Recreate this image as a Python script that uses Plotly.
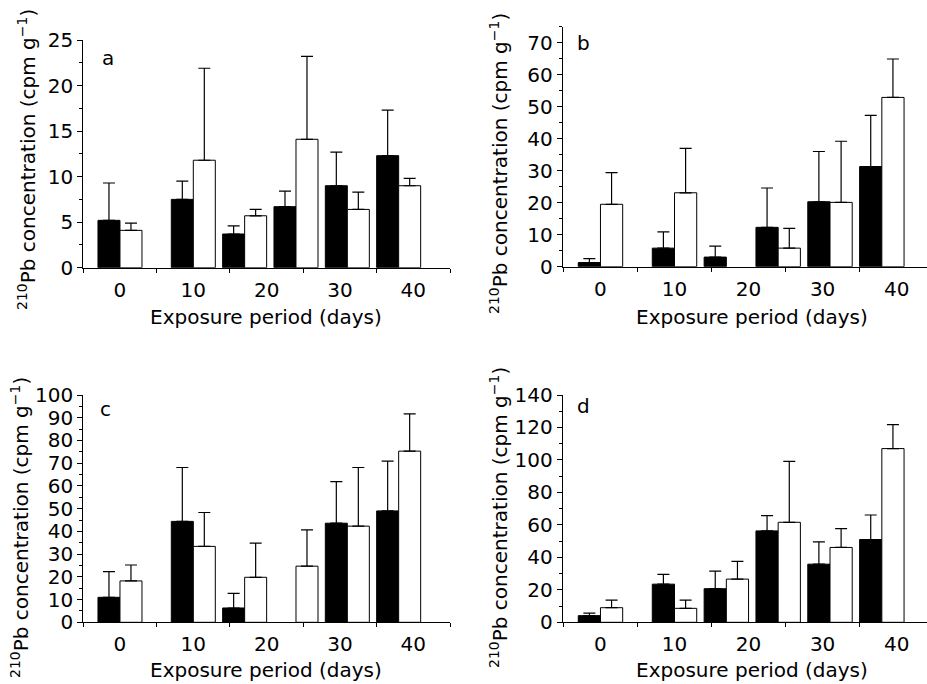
import plotly.graph_objects as go

# Sampling days (bar-pair positions)
days = [0, 10, 17, 24, 31, 38]

# Panel a
a_black = [5.2, 7.5, 3.7, 6.7, 9.0, 12.3]
a_black_err = [9.3, 9.5, 4.6, 8.4, 12.7, 17.3]
a_white = [4.1, 11.8, 5.7, 14.1, 6.4, 9.0]
a_white_err = [4.9, 21.9, 6.4, 23.2, 8.3, 9.8]

# Panel b
b_black = [1.3, 5.8, 3.0, 12.3, 20.3, 31.3]
b_black_err = [2.5, 10.9, 6.4, 24.6, 36.0, 47.3]
b_white = [19.5, 23.1, None, 5.8, 20.1, 52.9]
b_white_err = [29.4, 37.0, None, 12.0, 39.2, 64.9]

# Panel c
c_black = [11.0, 44.4, 6.3, None, 43.6, 49.0]
c_black_err = [22.3, 68.1, 12.7, None, 61.9, 70.9]
c_white = [18.2, 33.4, 19.8, 24.7, 42.3, 75.3]
c_white_err = [25.2, 48.3, 34.8, 40.7, 68.1, 91.7]

# Panel d
d_black = [4.1, 23.5, 20.7, 56.3, 35.8, 51.0]
d_black_err = [5.7, 29.5, 31.5, 65.7, 49.5, 66.1]
d_white = [9.0, 8.6, 26.6, 61.6, 46.1, 107.0]
d_white_err = [13.7, 13.7, 37.5, 99.1, 57.7, 121.8]

x_ticks = [0, 10, 20, 30, 40]
panel_letters = ["a", "b", "c", "d"]
y_ranges = [[0, 25], [0, 75], [0, 100], [0, 140]]
y_dticks = [5, 10, 10, 20]

FONT = "DejaVu Sans"
FS = 20
W, H = 927, 684

panels = [
    (a_black, a_black_err, a_white, a_white_err),
    (b_black, b_black_err, b_white, b_white_err),
    (c_black, c_black_err, c_white, c_white_err),
    (d_black, d_black_err, d_white, d_white_err),
]

# pixel layout of each plot area: (x0, x1, ytop, ybottom)
px = [
    (83.3, 450.0, 40.0, 267.7),
    (562.7, 927.0, 26.7, 266.7),
    (83.3, 450.0, 395.0, 622.3),
    (562.7, 927.0, 395.0, 622.3),
]
x_ranges = [[-5, 45], [-5.1, 44.1], [-5, 45], [-5.1, 44.1]]

fig = go.Figure()

def up(vals, tops):
    return [None if v is None else t - v for v, t in zip(vals, tops)]

for i, (bk, bke, wh, whe) in enumerate(panels):
    n = "" if i == 0 else str(i + 1)
    xa, ya = "x" + n, "y" + n
    for vals, tops, color in [(bk, bke, "black"), (wh, whe, "white")]:
        fig.add_trace(go.Bar(
            x=days, y=vals, xaxis=xa, yaxis=ya,
            marker=dict(color=color, line=dict(color="black", width=1)),
            error_y=dict(type="data", symmetric=False, array=up(vals, tops),
                         arrayminus=[0] * len(vals), color="black",
                         thickness=1.2, width=6),
            showlegend=False, hoverinfo="skip",
        ))
    x0, x1, yt, yb = px[i]
    xdom = [x0 / W, x1 / W]
    ydom = [1 - yb / H, 1 - yt / H]
    fig.layout["xaxis" + n] = dict(
        domain=xdom, range=x_ranges[i], anchor=ya, automargin=False,
        tickvals=x_ticks, ticktext=[str(t) for t in x_ticks],
        ticks="outside", ticklen=4, tickcolor="rgba(0,0,0,0)",
        minor=dict(ticks="outside", tick0=-5, dtick=10, ticklen=4,
                   tickcolor="black", tickwidth=1),
        showline=True, linecolor="black", linewidth=1,
        showgrid=False, zeroline=False,
        tickfont=dict(family=FONT, size=FS, color="black"),
    )
    fig.layout["yaxis" + n] = dict(
        domain=ydom, range=y_ranges[i], anchor=xa, automargin=False,
        dtick=y_dticks[i], tick0=0,
        ticks="outside", ticklen=5, tickcolor="black", tickwidth=1,
        minor=dict(ticks="outside", dtick=y_dticks[i] / 2, ticklen=3,
                   tickcolor="black", tickwidth=1),
        showline=True, linecolor="black", linewidth=1,
        showgrid=False, zeroline=False,
        tickfont=dict(family=FONT, size=FS, color="black"),
    )

annotations = []
# panel letters
letter_pos = [(0.046, 0.92), (0.033, 0.93), (0.04, 0.94), (0.033, 0.95)]
for i, L in enumerate(panel_letters):
    n = "" if i == 0 else str(i + 1)
    annotations.append(dict(
        text=L, xref="x" + n + " domain", yref="y" + n + " domain",
        x=letter_pos[i][0], y=letter_pos[i][1], xanchor="left", yanchor="middle",
        showarrow=False, font=dict(family=FONT, size=FS, color="black")))

ytitle = "<sup>210</sup>Pb concentration (cpm g<sup>\u22121</sup>)"
ytitle_pos = [(27, 160), (499, 164), (20, 528), (499, 518)]
for (xp, yp) in ytitle_pos:
    annotations.append(dict(
        text=ytitle, xref="paper", yref="paper", x=xp / W, y=1 - yp / H,
        xanchor="center", yanchor="middle", textangle=-90, showarrow=False,
        font=dict(family=FONT, size=FS, color="black")))

xtitle = "Exposure period (days)"
# (x centre px, y px, anchor)
xtitle_pos = [(266, 317, "middle"), (752, 317, "middle"),
              (266, 684, "bottom"), (752, 684, "bottom")]
for (xp, yp, anc) in xtitle_pos:
    annotations.append(dict(
        text=xtitle, xref="paper", yref="paper", x=xp / W, y=1 - yp / H,
        xanchor="center", yanchor=anc, showarrow=False,
        font=dict(family=FONT, size=FS, color="black")))

fig.update_layout(
    width=W, height=H,
    margin=dict(l=0, r=0, t=0, b=0, pad=0, autoexpand=False),
    paper_bgcolor="white", plot_bgcolor="white",
    barmode="group", bargap=1 / 7, bargroupgap=0,
    annotations=annotations,
    font=dict(family=FONT, size=FS, color="black"),
)

page_fix = (
    "var gd=document.getElementById('{plot_id}');"
    "var de=document.documentElement, b=document.body;"
    "[de,b].forEach(function(e){e.style.margin='0';e.style.padding='0';"
    "e.style.overflow='hidden';});"
    "gd.style.position='fixed';gd.style.left='0px';gd.style.top='0px';"
)

fig.write_html("out.html", config={"displayModeBar": False},
               post_script=page_fix)
